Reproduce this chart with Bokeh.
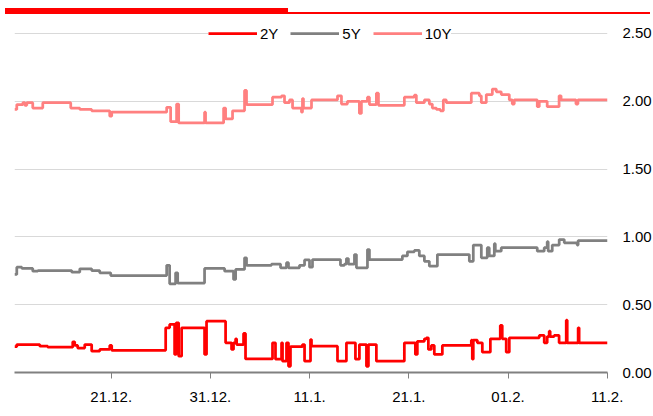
from bokeh.plotting import figure
from bokeh.models import Range1d, FixedTicker, Legend, LegendItem, Div, NumeralTickFormatter
from bokeh.layouts import column
from bokeh.embed import file_html
from bokeh.resources import INLINE

# x = trading-day index from the first observation (ticks every 10 units)
tick_pos = [9.75, 19.75, 29.75, 39.75, 49.75, 59.75]
tick_labels = ["21.12.", "31.12.", "11.1.", "21.1.", "01.2.", "11.2."]

day10 = [0.0, 0.23, 0.84, 1.04, 1.24, 1.84, 2.85, 5.67, 6.58, 7.78, 9.6, 9.8,
         15.34, 15.74, 16.34, 16.55, 19.16, 19.26, 21.08, 21.28, 21.98, 23.19,
         23.39, 26.01, 26.92, 27.22, 27.72, 28.03, 28.93, 29.03, 29.13, 29.94,
         32.56, 32.96, 33.56, 34.77, 34.97, 35.58, 35.78, 36.48, 36.69, 39.3,
         40.31, 40.51, 41.32, 41.82, 42.12, 42.53, 42.93, 43.23, 43.53, 46.05,
         46.86, 47.06, 47.56, 48.17, 48.57, 49.07, 49.88, 50.18, 50.38, 52.7,
         52.9, 53.7, 54.9, 55.1, 56.6, 56.8, 59.78]
val10 = [1.94, 1.976, 1.99, 1.97, 1.99, 1.95, 1.99, 1.95, 1.94, 1.93, 1.89, 1.92,
         1.956, 1.85, 1.98, 1.84, 1.92, 1.84, 1.95, 1.87, 1.93, 2.08,
         1.976, 2.03, 2.04, 1.99, 2.01, 1.95, 1.92, 2.02, 1.95, 2.01,
         2.04, 1.98, 2.0, 1.91, 2.0, 2.03, 1.976, 2.06, 1.97, 2.03,
         2.045, 1.99, 2.01, 1.98, 1.95, 1.94, 1.93, 2.01, 1.99, 2.06,
         2.04, 1.99, 2.05, 2.09, 2.07, 2.05, 2.01, 1.98, 2.01, 1.96,
         2.0, 1.96, 2.04, 2.01, 1.98, 2.01, 2.01]

day5 = [0.0, 0.23, 0.74, 1.84, 2.35, 5.77, 6.58, 7.78, 8.59, 9.7,
        15.34, 15.64, 16.24, 16.45, 19.16, 21.18, 22.08, 22.29, 23.19, 23.39,
        25.91, 26.82, 27.42, 27.62, 28.73, 29.24, 29.74, 30.04, 32.86, 33.26,
        33.46, 33.66, 34.27, 34.47, 35.58, 35.78, 39.1, 39.61, 40.31, 40.81,
        41.32, 41.82, 42.63, 45.85, 46.25, 47.06, 47.66, 47.86, 48.37, 48.47,
        49.07, 52.7, 53.4, 53.7, 53.8, 54.21, 54.91, 55.42, 56.72, 56.82, 59.78]
val5 = [0.723, 0.777, 0.767, 0.747, 0.752, 0.74, 0.765, 0.752, 0.735, 0.715,
        0.79, 0.654, 0.735, 0.66, 0.767, 0.747, 0.686, 0.76, 0.846, 0.79,
        0.80, 0.772, 0.81, 0.772, 0.79, 0.83, 0.777, 0.833, 0.79, 0.80,
        0.84, 0.80, 0.87, 0.772, 0.907, 0.833, 0.86, 0.89, 0.90, 0.86,
        0.82, 0.784, 0.87, 0.82, 0.94, 0.846, 0.92, 0.86, 0.95, 0.895,
        0.92, 0.895, 0.92, 0.965, 0.895, 0.94, 0.98, 0.956, 0.94, 0.973, 0.973]

day2 = [0.0, 0.23, 2.55, 3.35, 5.87, 6.07, 6.37, 7.08, 7.78, 8.59, 9.6, 9.8,
        15.24, 15.64, 16.14, 16.3, 16.55, 16.85, 19.16, 19.36, 21.28, 21.88,
        22.08, 22.29, 22.39, 23.09, 23.29, 26.01, 26.31, 26.92, 27.02, 27.42,
        27.62, 27.82, 29.03, 29.24, 29.84, 29.94, 32.56, 33.46, 34.37, 34.77,
        35.48, 35.68, 36.48, 39.3, 40.41, 40.61, 41.32, 41.52, 41.72, 42.02,
        42.32, 43.13, 46.05, 46.15, 46.25, 46.66, 47.16, 47.97, 48.97, 49.17,
        49.57, 49.88, 52.9, 53.4, 53.7, 53.9, 54.0, 54.4, 54.9, 55.62, 55.72,
        56.82, 56.92, 59.78]
val2 = [0.19, 0.206, 0.194, 0.187, 0.226, 0.20, 0.18, 0.206, 0.157, 0.17, 0.20, 0.164,
        0.33, 0.354, 0.133, 0.366, 0.12, 0.33, 0.133, 0.378, 0.219, 0.17,
        0.219, 0.248, 0.206, 0.288, 0.10, 0.219, 0.098, 0.219, 0.083, 0.219,
        0.046, 0.19, 0.206, 0.083, 0.243, 0.194, 0.083, 0.219, 0.098, 0.206,
        0.046, 0.206, 0.083, 0.219, 0.133, 0.23, 0.248, 0.256, 0.17, 0.2,
        0.133, 0.2, 0.238, 0.098, 0.238, 0.219, 0.15, 0.248, 0.347, 0.248,
        0.15, 0.256, 0.273, 0.219, 0.265, 0.305, 0.265, 0.273, 0.219, 0.386, 0.219,
        0.33, 0.219, 0.219]

FONT = "Liberation Sans"
LW = 2.75

# frame extends a little above 2.50 so the legend can sit on the top gridline
p = figure(frame_width=593, frame_height=349, output_backend="svg",
           toolbar_location=None, y_axis_location="right",
           x_range=Range1d(0, 59.78), y_range=Range1d(0, 2.5737))
p.min_border_left = 14
p.min_border_top = 7
p.min_border_right = 0
p.min_border_bottom = 0
p.outline_line_color = None
p.background_fill_color = "white"

r10 = p.step(day10, val10, mode="after", line_color="#FF8080", line_width=LW)
r5 = p.step(day5, val5, mode="after", line_color="#808080", line_width=LW)
r2 = p.step(day2, val2, mode="after", line_color="#FF0000", line_width=LW)

p.xgrid.visible = False
p.ygrid.ticker = FixedTicker(ticks=[0.5, 1.0, 1.5, 2.0, 2.5])
p.ygrid.grid_line_color = "#D9D9D9"
p.ygrid.grid_line_width = 1

xa = p.xaxis[0]
xa.ticker = FixedTicker(ticks=tick_pos)
xa.major_label_overrides = {t: l for t, l in zip(tick_pos, tick_labels)}
xa.axis_line_color = "#808080"
xa.axis_line_width = 2
xa.major_tick_line_color = "#808080"
xa.major_tick_line_width = 1
xa.major_tick_in = 0
xa.major_tick_out = 6
xa.minor_tick_line_color = None
xa.major_label_standoff = 13
xa.major_label_text_font = FONT
xa.major_label_text_font_size = "15px"
xa.major_label_text_color = "#000000"

ya = p.yaxis[0]
ya.ticker = FixedTicker(ticks=[0.0, 0.5, 1.0, 1.5, 2.0, 2.5])
ya.formatter = NumeralTickFormatter(format="0.00")
ya.axis_line_color = None
ya.major_tick_line_color = None
ya.minor_tick_line_color = None
ya.major_tick_out = 0
ya.major_tick_in = 0
ya.major_label_standoff = 15
ya.major_label_text_font = FONT
ya.major_label_text_font_size = "15px"
ya.major_label_text_color = "#000000"

legend = Legend(items=[LegendItem(label="2Y", renderers=[r2]),
                       LegendItem(label="5Y", renderers=[r5]),
                       LegendItem(label="10Y", renderers=[r10])],
                orientation="horizontal", location=(194, 330))
legend.glyph_width = 49
legend.glyph_height = 18
legend.label_height = 18
legend.label_width = 17
legend.label_standoff = 3
legend.spacing = 12
legend.padding = 6
legend.margin = 0
legend.border_line_color = None
legend.background_fill_color = "white"
legend.background_fill_alpha = 1.0
legend.label_text_font = FONT
legend.label_text_font_size = "15px"
legend.label_text_color = "#000000"
p.add_layout(legend, "center")

bar = Div(text='<div style="position:relative;top:-3px;width:645px;height:6px;">'
               '<div style="position:absolute;left:0;top:0;width:283px;height:6px;background:#FF0000;"></div>'
               '<div style="position:absolute;left:283px;top:4px;width:362px;height:2px;background:#FF0000;"></div>'
               '</div>', width=645, height=6)

layout = column(bar, p, spacing=0)
open("out.html", "w").write(file_html(layout, INLINE))
